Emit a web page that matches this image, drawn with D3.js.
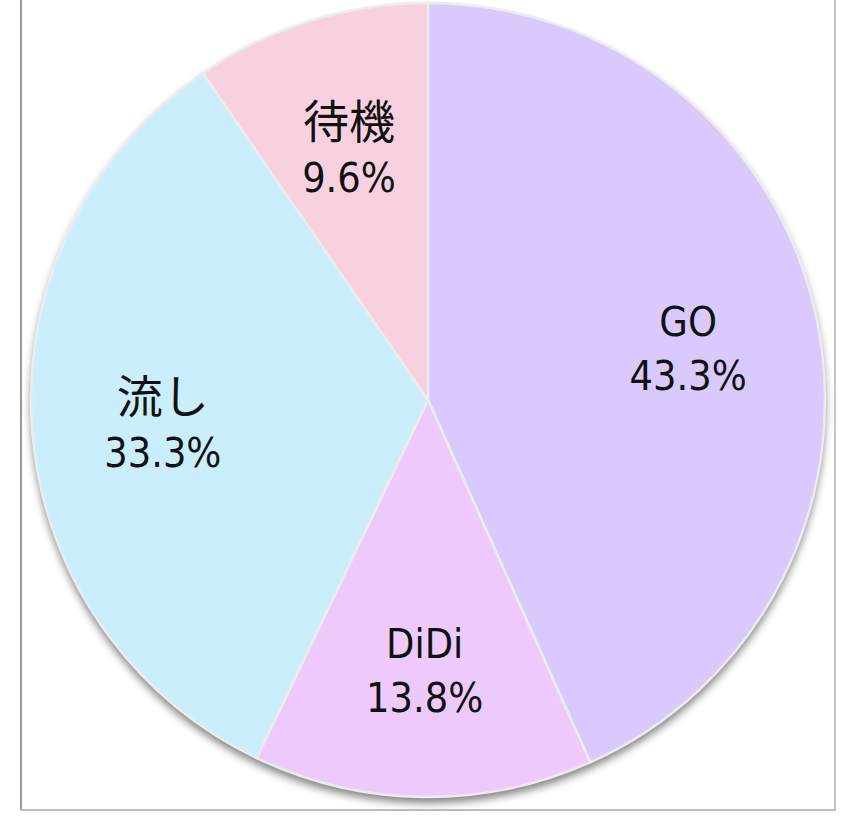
<!DOCTYPE html>
<html>
<head>
<meta charset="utf-8">
<script src="https://cdn.jsdelivr.net/npm/d3@7"></script>
<style>
  body { margin: 0; background: white; }
  svg { display: block; }
</style>
</head>
<body>
<div id="chart-area"></div>
<script>
// data
var categories = ["GO", "DiDi", "流し", "待機"];
var values = [43.3, 13.8, 33.3, 9.6];
var colors = ["#dac9fd", "#eecafc", "#cbeefd", "#f8d1e1"];

var width = 843;
var height = 821;
var cx = 428, cy = 400, radius = 397;
var labelRadius = 266;

var svg = d3.select("#chart-area")
  .append("svg")
  .attr("width", width)
  .attr("height", height);

// frame (top edge is cut off in the original)
svg.append("line").attr("x1", 21).attr("y1", 0).attr("x2", 21).attr("y2", 811)
  .attr("stroke", "#9a9a9a").attr("stroke-width", 2);
svg.append("line").attr("x1", 835).attr("y1", 0).attr("x2", 835).attr("y2", 811)
  .attr("stroke", "#c6c6c6").attr("stroke-width", 2);
svg.append("line").attr("x1", 20).attr("y1", 810).attr("x2", 836).attr("y2", 810)
  .attr("stroke", "#bdbdbd").attr("stroke-width", 2);

var defs = svg.append("defs");
var filter = defs.append("filter")
  .attr("id", "shadow")
  .attr("x", "-10%").attr("y", "-10%")
  .attr("width", "120%").attr("height", "125%");
filter.append("feGaussianBlur").attr("in", "SourceAlpha").attr("stdDeviation", 4);
filter.append("feOffset").attr("dx", 0).attr("dy", 6).attr("result", "blur");
filter.append("feComponentTransfer").append("feFuncA").attr("type", "linear").attr("slope", 0.5);
var merge = filter.append("feMerge");
merge.append("feMergeNode");
merge.append("feMergeNode").attr("in", "SourceGraphic");

var g = svg.append("g")
  .attr("transform", "translate(" + cx + "," + cy + ")");

var data = categories.map(function(c, i) {
  return { name: c, value: values[i], color: colors[i] };
});

var pie = d3.pie()
  .sort(null)
  .value(function(d) { return d.value; });

var arc = d3.arc()
  .innerRadius(0)
  .outerRadius(radius);

var labelArc = d3.arc()
  .innerRadius(labelRadius)
  .outerRadius(labelRadius);

var arcs = pie(data);

g.append("circle")
  .attr("r", radius)
  .attr("fill", "#ddd")
  .attr("filter", "url(#shadow)");

g.selectAll("path.slice")
  .data(arcs)
  .enter().append("path")
  .attr("class", "slice")
  .attr("d", arc)
  .attr("fill", function(d) { return d.data.color; })
  .attr("stroke", "#ececec")
  .attr("stroke-width", 2.5);

var isCJK = function(s) { return /[^\x00-\x7f]/.test(s); };

var labels = g.selectAll("text.label")
  .data(arcs)
  .enter().append("text")
  .attr("class", "label")
  .attr("transform", function(d) { return "translate(" + labelArc.centroid(d) + ")"; })
  .attr("text-anchor", "middle")
  .attr("font-family", "'DejaVu Sans Condensed', 'DejaVu Sans', 'Noto Sans CJK JP', sans-serif")
  .attr("font-size", "41px")
  .attr("fill", "#111");

labels.append("tspan")
  .attr("x", 0)
  .attr("y", -8)
  .attr("font-family", function(d) { return isCJK(d.data.name) ? "'Noto Sans CJK JP', sans-serif" : null; })
  .attr("font-size", function(d) { return isCJK(d.data.name) ? "46px" : null; })
  .text(function(d) { return d.data.name; });

labels.append("tspan")
  .attr("x", 0)
  .attr("y", 46)
  .text(function(d) { return d.data.value.toFixed(1) + "%"; });
</script>
</body>
</html>
